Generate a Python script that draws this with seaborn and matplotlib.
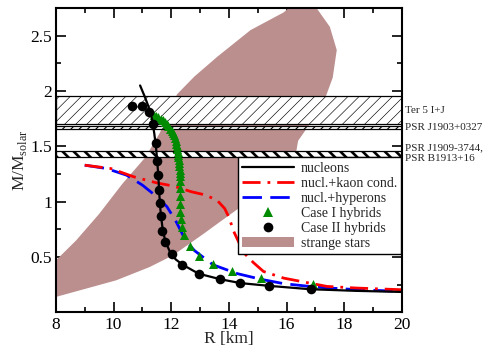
import matplotlib
matplotlib.use('Agg')
import matplotlib.pyplot as plt
import seaborn as sns
from matplotlib.lines import Line2D
from matplotlib.patches import Patch
from matplotlib.ticker import MultipleLocator

# nucleon mass-radius curve
nucl_R = [10.92, 11.08, 11.21, 11.33, 11.41, 11.47, 11.51, 11.55, 11.58, 11.61, 11.65,
          11.71, 11.80, 11.95, 12.15, 12.40, 12.95, 13.70, 14.40, 15.40, 16.80, 18.40, 20.0]
nucl_M = [2.05, 1.95, 1.86, 1.75, 1.62, 1.50, 1.38, 1.24, 1.10, 0.97, 0.86,
          0.74, 0.64, 0.55, 0.48, 0.43, 0.35, 0.30, 0.265, 0.24, 0.21, 0.195, 0.185]

# nucleons + kaon condensate
kaon_R = [9.0, 9.9, 10.7, 11.5, 12.1, 12.7, 13.2, 13.6, 13.85, 14.0, 14.17, 14.35,
          14.55, 14.85, 15.2, 15.9, 16.5, 17.4, 18.45, 20.0]
kaon_M = [1.33, 1.30, 1.225, 1.17, 1.14, 1.09, 1.06, 1.01, 0.94, 0.86, 0.73, 0.63,
          0.53, 0.45, 0.37, 0.31, 0.28, 0.235, 0.22, 0.205]

# nucleons + hyperons
hyp_R = [9.0, 9.75, 10.45, 11.0, 11.5, 11.85, 12.15, 12.5, 12.8, 13.45, 14.3, 15.1,
         15.9, 16.8, 17.5, 18.5, 20.0]
hyp_M = [1.33, 1.30, 1.24, 1.15, 1.045, 0.955, 0.83, 0.65, 0.56, 0.43, 0.35, 0.30,
         0.26, 0.235, 0.22, 0.205, 0.19]

# Case I hybrids (triangles)
case1_R = [11.40, 11.47, 11.55, 11.63, 11.70, 11.77, 11.84, 11.90, 11.96, 12.01, 12.05,
           12.09, 12.12, 12.15, 12.17, 12.19, 12.21, 12.23, 12.24, 12.25, 12.26, 12.27,
           12.28, 12.29, 12.29, 12.30, 12.30, 12.30, 12.30, 12.30, 12.31, 12.33, 12.37,
           12.45, 12.64, 12.97, 13.44, 14.09, 15.12, 16.92]
case1_M = [1.78, 1.775, 1.765, 1.75, 1.735, 1.72, 1.70, 1.68, 1.66, 1.64, 1.62,
           1.60, 1.575, 1.55, 1.525, 1.50, 1.475, 1.45, 1.425, 1.40, 1.375, 1.35,
           1.32, 1.29, 1.26, 1.23, 1.19, 1.12, 1.05, 0.98, 0.91, 0.84, 0.77,
           0.70, 0.60, 0.51, 0.44, 0.376, 0.31, 0.26]

# Case II hybrids (circles)
case2_R = [10.63, 10.98, 11.23, 11.38, 11.46, 11.51, 11.55, 11.58, 11.60, 11.63, 11.69,
           11.77, 12.03, 12.39, 12.97, 13.70, 14.40, 15.40, 16.83]
case2_M = [1.86, 1.86, 1.81, 1.70, 1.53, 1.37, 1.24, 1.11, 0.99, 0.87, 0.74,
           0.64, 0.53, 0.43, 0.35, 0.30, 0.265, 0.24, 0.21]

# outline of the strange star region
strange_R = [7.9, 8.0, 8.7, 9.5, 10.3, 11.1, 11.6, 12.2, 12.8, 13.6, 14.75, 15.9, 16.3,
             16.9, 17.5, 17.74, 17.6, 17.36, 16.8, 16.4, 16.3, 16.0, 15.2, 14.34, 13.7,
             13.12, 12.14, 11.94, 11.25, 10.09, 8.0, 7.9]
strange_M = [0.45, 0.47, 0.65, 0.89, 1.16, 1.40, 1.62, 1.97, 2.13, 2.31, 2.55, 2.71, 2.8,
             2.8, 2.58, 2.37, 2.12, 1.95, 1.70, 1.55, 1.40, 1.27, 1.07, 0.94, 0.82,
             0.71, 0.53, 0.50, 0.41, 0.29, 0.14, 0.13]

# pulsar mass bands
band_lo = [1.700, 1.654, 1.406]
band_hi = [1.958, 1.686, 1.460]
band_names = ['Ter 5 I+J', 'PSR J1903+0327', 'PSR J1909-3744,\nPSR B1913+16']
band_text_M = [1.82, 1.67, 1.44]

x_ticks = [8, 10, 12, 14, 16, 18, 20]
y_ticks = [0.5, 1, 1.5, 2, 2.5]
y_ticklabels = ['0.5', '1', '1.5', '2', '2.5']

sns.set_theme(style='ticks')
plt.rcParams['font.family'] = ['Liberation Serif', 'DejaVu Serif']
plt.rcParams['mathtext.fontset'] = 'custom'
plt.rcParams['mathtext.rm'] = 'Liberation Serif'

fig, ax = plt.subplots(figsize=(4.86, 3.46), dpi=100)
fig.subplots_adjust(left=0.115, right=0.827, bottom=0.097, top=0.977)

ax.fill(strange_R, strange_M, color='rosybrown', lw=0, zorder=1)

band_hatch = ['///', '////', '\\\\\\']
band_hlw = [0.45, 0.8, 1.9]
for lo, hi, h, hlw in zip(band_lo, band_hi, band_hatch, band_hlw):
    with plt.rc_context({'hatch.linewidth': hlw}):
        sp = ax.axhspan(lo, hi, facecolor='white', edgecolor='black', hatch=h, lw=0.9, zorder=2)
        if hasattr(sp, 'set_hatch_linewidth'):
            sp.set_hatch_linewidth(hlw)

sns.lineplot(x=hyp_R, y=hyp_M, sort=False, estimator=None, color='#0000ff', lw=2,
             linestyle=(0, (7, 3)), ax=ax, zorder=3)
sns.lineplot(x=kaon_R, y=kaon_M, sort=False, estimator=None, color='#ff0000', lw=2,
             linestyle=(0, (6.5, 2.5, 1, 2.5)), ax=ax, zorder=3.5)
sns.scatterplot(x=case1_R, y=case1_M, marker='^', color='#008b00', s=42, linewidth=0,
                ax=ax, zorder=4)
sns.lineplot(x=nucl_R, y=nucl_M, sort=False, estimator=None, color='black', lw=1.6,
             ax=ax, zorder=5)
sns.scatterplot(x=case2_R, y=case2_M, marker='o', color='black', s=48, linewidth=0,
                ax=ax, zorder=6)

for name, m in zip(band_names, band_text_M):
    ax.text(20.1, m, name, fontsize=8, va='center', ha='left', clip_on=False,
            linespacing=1.2)

ax.set_xlim(8, 20)
ax.set_ylim(0, 2.75)
ax.set_xticks(x_ticks)
ax.set_yticks(y_ticks)
ax.set_yticklabels(y_ticklabels)
ax.xaxis.set_minor_locator(MultipleLocator(1))
ax.yaxis.set_minor_locator(MultipleLocator(0.25))
ax.tick_params(which='both', direction='in', top=True, right=True, width=1.2,
               labelsize=12.5, pad=3, color='black', labelcolor='black')
ax.tick_params(which='major', length=7)
ax.tick_params(which='minor', length=3.5)
for s in ax.spines.values():
    s.set_linewidth(1.5)
    s.set_color('black')
    s.set_zorder(10)

ax.set_xlabel('R [km]', fontsize=12.5, labelpad=-1)
ax.set_ylabel('M/M$_\\mathrm{solar}$', fontsize=12.5, labelpad=1)

handles = [
    Line2D([], [], color='black', lw=1.6),
    Line2D([], [], color='#ff0000', lw=2, linestyle=(0, (6.5, 2.5, 1, 2.5))),
    Line2D([], [], color='#0000ff', lw=2, linestyle=(0, (7, 3))),
    Line2D([], [], color='#008b00', marker='^', ls='none', markersize=6.5, mew=0),
    Line2D([], [], color='black', marker='o', ls='none', markersize=7, mew=0),
    Patch(facecolor='rosybrown', edgecolor='none'),
]
labels = ['nucleons', 'nucl.+kaon cond.', 'nucl.+hyperons', 'Case I hybrids',
          'Case II hybrids', 'strange stars']
leg = ax.legend(handles, labels, loc='upper left', bbox_to_anchor=(0.527, 0.509),
                borderaxespad=0, fontsize=10, handlelength=3.7, handletextpad=0.5,
                labelspacing=0.15, borderpad=0.3, fancybox=False, framealpha=1,
                edgecolor='black')
leg.get_frame().set_linewidth(1.0)
leg.set_zorder(20)

fig.savefig('out.png', dpi=100)
